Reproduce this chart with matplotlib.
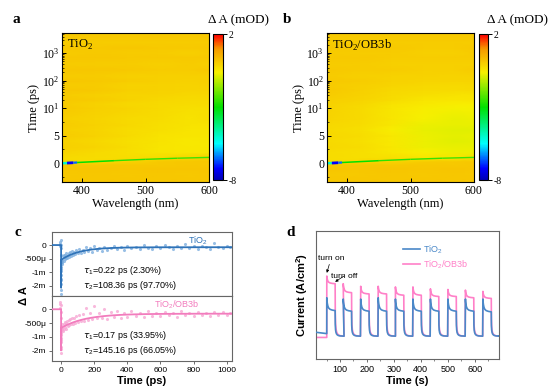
import numpy as np
import matplotlib
matplotlib.use('Agg')
import matplotlib.pyplot as plt
from matplotlib.colors import LinearSegmentedColormap, Normalize
from matplotlib.collections import LineCollection
from matplotlib.ticker import FixedLocator, NullLocator

plt.rcParams['font.family'] = ['Liberation Sans', 'DejaVu Sans']
SERIF = ['Liberation Serif', 'DejaVu Serif']

# ---------------- data: transient absorption maps (a, b) ----------------
wavelengths = [368, 420, 470, 520, 570, 600]
delays = [-3.6, -2, -1, -0.3, 0.3, 1, 2, 3, 4, 5, 6, 7, 8, 10, 14, 20, 30,
          45, 70, 100, 150, 250, 400, 700, 1000, 1600, 2500, 4000, 5600]

map_tio2 = [
    [0.20, 0.15, 0.20, 0.15, 0.20, 0.15],
    [0.10, 0.15, 0.10, 0.15, 0.10, 0.15],
    [0.20, 0.20, 0.15, 0.20, 0.20, 0.20],
    [0.15, 0.10, 0.15, 0.10, 0.15, 0.10],
    [-0.20, -0.20, -0.10, 0.10, 0.15, 0.15],
    [-0.20, -0.25, -0.25, -0.20, -0.10, 0.00],
    [-0.10, -0.20, -0.30, -0.40, -0.45, -0.45],
    [0.00, -0.10, -0.25, -0.40, -0.45, -0.50],
    [-0.05, -0.15, -0.30, -0.35, -0.50, -0.45],
    [0.05, -0.05, -0.20, -0.35, -0.40, -0.45],
    [0.00, -0.10, -0.25, -0.30, -0.40, -0.40],
    [0.05, -0.05, -0.15, -0.30, -0.35, -0.35],
    [0.00, -0.10, -0.20, -0.25, -0.35, -0.30],
    [0.10, 0.00, -0.10, -0.20, -0.30, -0.30],
    [0.05, -0.05, -0.15, -0.20, -0.25, -0.25],
    [0.10, 0.05, -0.05, -0.15, -0.20, -0.20],
    [0.05, 0.00, -0.10, -0.10, -0.15, -0.15],
    [0.15, 0.10, 0.00, -0.05, -0.10, -0.10],
    [0.05, 0.05, -0.05, -0.05, -0.10, -0.05],
    [0.15, 0.10, 0.05, 0.00, -0.05, 0.00],
    [0.05, 0.05, 0.00, 0.00, 0.00, 0.00],
    [0.15, 0.15, 0.10, 0.05, 0.05, 0.10],
    [0.05, 0.05, 0.05, 0.00, 0.05, 0.00],
    [0.15, 0.15, 0.10, 0.10, 0.10, 0.10],
    [0.05, 0.10, 0.05, 0.05, 0.00, 0.05],
    [0.15, 0.10, 0.15, 0.10, 0.10, 0.10],
    [0.05, 0.05, 0.05, 0.05, 0.05, 0.05],
    [0.15, 0.15, 0.10, 0.15, 0.10, 0.15],
    [0.10, 0.10, 0.10, 0.10, 0.10, 0.10],
]

map_ob3b = [
    [0.15, 0.20, 0.15, 0.20, 0.15, 0.20],
    [0.10, 0.10, 0.15, 0.10, 0.15, 0.10],
    [0.20, 0.15, 0.20, 0.15, 0.20, 0.15],
    [0.10, 0.15, 0.10, 0.15, 0.10, 0.15],
    [-0.25, -0.15, -0.10, 0.05, 0.10, 0.15],
    [-0.25, -0.30, -0.30, -0.40, -0.40, -0.25],
    [-0.25, -0.30, -0.45, -0.60, -0.70, -0.70],
    [-0.15, -0.25, -0.45, -0.70, -0.75, -0.75],
    [-0.20, -0.30, -0.50, -0.70, -0.85, -0.80],
    [-0.15, -0.25, -0.45, -0.70, -0.80, -0.75],
    [-0.20, -0.30, -0.55, -0.75, -0.85, -0.85],
    [-0.15, -0.25, -0.45, -0.70, -0.75, -0.75],
    [-0.10, -0.20, -0.40, -0.65, -0.75, -0.70],
    [-0.05, -0.20, -0.40, -0.55, -0.65, -0.65],
    [-0.05, -0.15, -0.35, -0.50, -0.55, -0.55],
    [0.00, -0.10, -0.25, -0.40, -0.45, -0.40],
    [0.05, -0.05, -0.20, -0.30, -0.35, -0.35],
    [0.10, 0.00, -0.15, -0.20, -0.25, -0.20],
    [0.05, 0.00, -0.10, -0.15, -0.20, -0.15],
    [0.10, 0.05, -0.05, -0.10, -0.10, -0.10],
    [0.05, 0.00, -0.05, -0.05, -0.10, -0.05],
    [0.10, 0.05, 0.05, 0.00, 0.00, 0.05],
    [0.05, 0.05, 0.00, 0.00, 0.00, 0.00],
    [0.10, 0.10, 0.05, 0.05, 0.05, 0.05],
    [0.05, 0.05, 0.05, 0.00, 0.00, 0.05],
    [0.10, 0.10, 0.10, 0.05, 0.05, 0.10],
    [0.05, 0.05, 0.05, 0.05, 0.05, 0.05],
    [0.10, 0.10, 0.10, 0.10, 0.10, 0.10],
    [0.10, 0.10, 0.10, 0.10, 0.10, 0.10],
]

# time-zero (chirp) feature
chirp_wl = [368, 376, 386, 392, 450, 500, 550, 600]
chirp_t0 = [-0.02, 0.02, 0.08, 0.12, 0.45, 0.7, 0.9, 1.05]
chirp_val = [-5.0, -7.2, -6.5, -3.0, -2.6, -2.5, -2.4, -2.3]
chirp_width = [1.8, 2.0, 1.6, 1.1, 1.0, 1.0, 1.0]

# ---------------- data: kinetics (c) ----------------
t_kin = [-6, -5, -4, -3, -2, -1.5, -1, -0.5, 0, 0.2, 0.4, 0.6, 0.8, 1, 1.5, 2, 3, 4, 5, 6,
         8, 12, 15, 18, 22, 25, 28, 32, 36, 40, 45, 50, 55, 60, 65, 70, 78, 85, 92, 100,
         110, 120, 130, 140, 150, 162, 175, 188, 200, 215, 230, 245, 260, 280, 300, 320,
         340, 360, 380, 400, 425, 450, 475, 500, 525, 550, 575, 600, 625, 650, 675, 700,
         725, 750, 775, 800, 825, 850, 875, 900, 925, 950, 975, 1000, 1020]
dA_tio2 = [0.05, -0.02, 0.10, 0.18, 0.02, -0.10, -0.35, -0.90, -1.60, -2.60, -2.30, -1.90,
           -1.50, -1.20, -0.95, -0.80, -0.70, -0.62, -0.58, -0.55,
           -0.62, -0.41, -0.58, -0.38, -0.52, -0.35, -0.49, -0.31, -0.47, -0.36, -0.29, -0.44,
           -0.27, -0.40, -0.22, -0.36, -0.25, -0.33, -0.18, -0.30, -0.14, -0.28, -0.17, -0.26,
           -0.08, -0.22, -0.12, -0.24, -0.05, -0.19, -0.10, -0.21, -0.06, -0.17, -0.12, -0.02,
           -0.15, -0.07, -0.18, -0.03, -0.12, -0.06, -0.16, -0.01, -0.10, -0.14, -0.04, -0.11,
           0.02, -0.09, -0.15, -0.03, -0.10, 0.03, -0.12, -0.05, -0.14, -0.02, -0.09, -0.13,
           0.06, -0.06, -0.11, -0.04, -0.08]
dA_ob3b = [0.20, 0.05, 0.25, -0.10, 0.15, -0.30, -0.60, -1.20, -1.90, -2.20, -1.70, -1.40,
           -1.10, -0.95, -0.85, -0.80, -0.75, -0.72, -0.70, -0.68,
           -0.55, -0.78, -0.52, -0.70, -0.45, -0.66, -0.49, -0.72, -0.41, -0.60, -0.38, -0.58,
           -0.36, -0.55, -0.30, -0.52, -0.33, -0.50, -0.26, -0.47, -0.22, -0.44, -0.18, -0.42,
           0.05, -0.38, -0.12, -0.36, 0.10, -0.33, -0.15, -0.31, 0.02, -0.35, -0.10, -0.28,
           -0.05, -0.30, -0.12, -0.27, -0.08, -0.25, -0.14, -0.29, -0.06, -0.23, -0.12, -0.26,
           -0.09, -0.22, -0.15, -0.27, -0.08, -0.20, -0.13, -0.25, -0.10, -0.21, -0.15, -0.24,
           -0.11, -0.19, -0.09, -0.22, -0.14]
# biexponential fits (mOD): amplitudes, lifetimes (ps), offset
fit_tio2 = dict(a1=1.60, tau1=0.22, a2=0.47, tau2=108.36, c=0.08)
fit_ob3b = dict(a1=1.30, tau1=0.17, a2=0.52, tau2=145.16, c=0.16)

# ---------------- data: photocurrent (d) ----------------
on_times = [51, 112, 177, 242, 306, 371, 436, 501, 566, 631]
on_duration = 31
tio2_spike = [0.48, 0.47, 0.47, 0.48, 0.47, 0.47, 0.47, 0.47, 0.47, 0.47]
tio2_plateau = [0.38, 0.375, 0.375, 0.375, 0.375, 0.375, 0.375, 0.375, 0.375, 0.37]
ob3b_spike = [0.65, 0.59, 0.57, 0.57, 0.565, 0.565, 0.55, 0.545, 0.54, 0.53]
ob3b_plateau = [0.59, 0.52, 0.51, 0.51, 0.50, 0.50, 0.49, 0.49, 0.48, 0.475]
tio2_dark = [0.21, 0.20, 0.18]   # start, just before first on, later
ob3b_dark = [0.17, 0.17, 0.18]
# normalised shape of one on/off cycle, read from the first cycles
rise_dt = [0, 0.5, 2, 4, 7, 12, 20, 31]
rise_w = [1, 0.8, 0.55, 0.35, 0.2, 0.1, 0.04, 0]
fall_dt = [0, 0.5, 1.5, 3, 5, 8, 12, 18, 33]
fall_w = [1, 0.45, 0.25, 0.15, 0.09, 0.05, 0.025, 0.01, 0]


def cycle_curve(spikes, plateaus, dark):
    ts = [12, on_times[0] - 0.2]
    ys = [dark[0], dark[1]]
    for t_on, sp, pl in zip(on_times, spikes, plateaus):
        for dt, w in zip(rise_dt, rise_w):
            ts.append(t_on + dt)
            ys.append(pl + w * (sp - pl))
        t_off = t_on + on_duration
        for dt, w in zip(fall_dt[1:], fall_w[1:]):
            ts.append(t_off + dt)
            ys.append(dark[2] + w * (pl - dark[2]))
    ts.append(690)
    ys.append(dark[2])
    return ts, ys


# ---------------- colormap ----------------
cmap = LinearSegmentedColormap.from_list('ta', [
    (0.0, '#0000b4'), (0.08, '#0000ff'), (0.25, '#00ffff'), (0.5, '#00e000'),
    (0.74, '#f8f000'), (0.9, '#f59a00'), (1.0, '#ff0000')])
norm = Normalize(-8, 2)


def t_fwd(t):
    t = np.asarray(t, dtype=float)
    return np.where(t <= 5, t / 5.0,
                    np.where(t <= 10, 1 + (t - 5) / 5.0,
                             2 + np.log10(np.maximum(t, 10) / 10.0)))


def t_inv(u):
    u = np.asarray(u, dtype=float)
    return np.where(u <= 1, 5 * u,
                    np.where(u <= 2, 5 + 5 * (u - 1),
                             10 * 10 ** (np.minimum(u, 8) - 2)))


fig = plt.figure(figsize=(5.53, 3.90), dpi=100)


def ta_panel(ax_rect, cax_rect, values, name, letter, letter_x, unit_right):
    ax = fig.add_axes(ax_rect)
    cax = fig.add_axes(cax_rect)
    ax.set_yscale('function', functions=(t_fwd, t_inv))
    mesh = ax.pcolormesh(wavelengths, delays, np.array(values), cmap=cmap,
                         norm=norm, shading='gouraud', rasterized=True)
    pts = np.array([chirp_wl, chirp_t0]).T.reshape(-1, 1, 2)
    segs = np.concatenate([pts[:-1], pts[1:]], axis=1)
    lc = LineCollection(segs, cmap=cmap, norm=norm, linewidths=chirp_width)
    lc.set_array(np.array(chirp_val[:-1]))
    ax.add_collection(lc)
    ax.set_xlim(368, 600)
    ax.set_ylim(-3.45, 5370)
    ax.yaxis.set_major_locator(FixedLocator([0, 5, 10, 100, 1000]))
    ax.set_yticklabels(['0', '5', r'$\mathregular{10^1}$', r'$\mathregular{10^2}$',
                        r'$\mathregular{10^3}$'], fontfamily=SERIF, fontsize=8.5)
    minors = [-2.5, 2.5, 7.5] + [m * d for d in (10, 100, 1000) for m in range(2, 10)]
    ax.yaxis.set_minor_locator(FixedLocator(minors))
    ax.set_xticks([400, 500, 600])
    ax.set_xticklabels(['400', '500', '600'], fontfamily=SERIF, fontsize=8.5)
    ax.tick_params(direction='in', length=3, width=0.7, pad=2)
    ax.tick_params(which='minor', direction='in', length=1.5, width=0.5)
    ax.set_xlabel('Wavelength (nm)', fontfamily=SERIF, fontsize=9, labelpad=1)
    ax.set_ylabel('Time (ps)', fontfamily=SERIF, fontsize=9, labelpad=1)
    for s in ax.spines.values():
        s.set_linewidth(0.8)
    ax.text(0.035, 0.92, name, transform=ax.transAxes, fontfamily=SERIF,
            fontsize=9, va='center')
    cb = fig.colorbar(mesh, cax=cax, ticks=[-8, 2])
    cb.ax.set_yticklabels(['-8', '2'], fontfamily=SERIF, fontsize=7)
    cb.ax.tick_params(length=3, width=0.7, pad=1)
    cb.outline.set_linewidth(0.8)
    fig.text(letter_x, 0.949, letter, fontfamily=SERIF, fontsize=11,
             fontweight='bold', va='center')
    fig.text(unit_right, 0.949, '\u0394 A (mOD)', fontfamily=SERIF, fontsize=9.5,
             va='center', ha='right')


ta_panel([0.112, 0.533, 0.266, 0.382], [0.385, 0.538, 0.018, 0.374], map_tio2,
         r'TiO$_\mathregular{2}$', 'a', 0.022, 0.487)
ta_panel([0.591, 0.533, 0.266, 0.382], [0.866, 0.538, 0.017, 0.374], map_ob3b,
         r'TiO$_\mathregular{2}$/OB3b', 'b', 0.511, 0.991)

# ---------------- panel c ----------------
BLUE_PT, BLUE_LN = '#7fb0df', '#2f73b8'
PINK_PT, PINK_LN = '#f7a8d4', '#f27cbd'


def dA_fwd(v):
    v = np.asarray(v, dtype=float)
    return np.where(v >= -1e-3, v, -1e-3 + (v + 1e-3) / 2)


def dA_inv(u):
    u = np.asarray(u, dtype=float)
    return np.where(u >= -1e-3, u, -1e-3 + 2 * (u + 1e-3))


axc1 = fig.add_axes([0.094, 0.241, 0.325, 0.164])
axc2 = fig.add_axes([0.094, 0.074, 0.325, 0.167], sharex=axc1)
t_fit = np.concatenate([[-55, -0.01], np.linspace(0, 1030, 3000)])
for ax, vals, fit, pc, lc_, label, tau_lines in [
        (axc1, dA_tio2, fit_tio2, BLUE_PT, BLUE_LN, r'TiO$_\mathregular{2}$',
         [r'$\tau_\mathregular{1}$=0.22 ps (2.30%)', r'$\tau_\mathregular{2}$=108.36 ps (97.70%)']),
        (axc2, dA_ob3b, fit_ob3b, PINK_PT, PINK_LN, r'TiO$_\mathregular{2}$/OB3b',
         [r'$\tau_\mathregular{1}$=0.17 ps (33.95%)', r'$\tau_\mathregular{2}$=145.16 ps (66.05%)'])]:
    ax.set_yscale('function', functions=(dA_fwd, dA_inv))
    ax.scatter(t_kin, np.array(vals) * 1e-3, s=5, color=pc, alpha=0.8,
               linewidths=0, zorder=2)
    tf = np.clip(t_fit, 0, None)
    model = -(fit['a1'] * np.exp(-tf / fit['tau1']) + fit['a2'] * np.exp(-tf / fit['tau2'])
              + fit['c'])
    model = np.where(t_fit < 0, 0.0, model) * 1e-3
    ax.plot(t_fit, model, color=lc_, lw=1.3, zorder=3)
    ax.set_ylim(-2.76e-3, 0.48e-3)
    ax.set_xlim(-55, 1030)
    ax.yaxis.set_major_locator(FixedLocator([0, -5e-4, -1e-3, -2e-3]))
    ax.set_yticklabels(['0', '-500\u03bc', '-1m', '-2m'])
    ax.yaxis.set_minor_locator(NullLocator())
    ax.tick_params(labelsize=6, length=2.5, width=0.6, pad=1.5, color='#555555')
    for s in ax.spines.values():
        s.set_color('#666666')
        s.set_linewidth(0.8)
    ax.text(0.755 if ax is axc1 else 0.57, 0.86, label, transform=ax.transAxes,
            color=lc_, fontsize=6.5, va='center')
    ax.text(0.17, 0.40, tau_lines[0], transform=ax.transAxes, fontsize=6.5, va='center')
    ax.text(0.17, 0.17, tau_lines[1], transform=ax.transAxes, fontsize=6.5, va='center')
axc1.tick_params(axis='x', labelbottom=False, length=0)
axc2.set_xticks([0, 200, 400, 600, 800, 1000])
axc2.set_xlabel('Time (ps)', fontsize=8, fontweight='bold', labelpad=1.5)
fig.text(0.043, 0.241, '\u0394 A', rotation=90, fontsize=8, fontweight='bold',
         va='center', ha='center')
fig.text(0.026, 0.405, 'c', fontfamily=SERIF, fontsize=11, fontweight='bold', va='center')

# ---------------- panel d ----------------
D_BLUE, D_PINK = '#4a88c8', '#ff80c8'
axd = fig.add_axes([0.571, 0.079, 0.331, 0.328])
tx, ty = cycle_curve(ob3b_spike, ob3b_plateau, ob3b_dark)
axd.plot(tx, ty, color=D_PINK, lw=1.2, label=r'TiO$_\mathregular{2}$/OB3b', zorder=2)
tx, ty = cycle_curve(tio2_spike, tio2_plateau, tio2_dark)
axd.plot(tx, ty, color=D_BLUE, lw=1.2, label=r'TiO$_\mathregular{2}$', zorder=3)
axd.set_xlim(10, 690)
axd.set_ylim(0, 1)
axd.set_xticks([100, 200, 300, 400, 500, 600])
axd.set_xticks(np.arange(50, 690, 50), minor=True)
axd.set_yticks([])
axd.tick_params(labelsize=6.5, length=2.5, width=0.6, pad=1.5, color='#555555')
axd.tick_params(which='minor', length=1.5, width=0.5, color='#555555')
for s in axd.spines.values():
    s.set_color('#666666')
    s.set_linewidth(0.8)
axd.set_xlabel('Time (s)', fontsize=8, fontweight='bold', labelpad=1.5)
axd.set_ylabel(r'Current (A/cm$^\mathregular{2}$)', fontsize=8, fontweight='bold', labelpad=4)
handles, labels = axd.get_legend_handles_labels()
leg = axd.legend(handles[::-1], labels[::-1], loc='upper right', frameon=False,
                 fontsize=6.5, handlelength=1.8, handletextpad=0.4,
                 labelspacing=0.3, bbox_to_anchor=(0.88, 0.97))
for txt, col in zip(leg.get_texts(), [D_BLUE, D_PINK]):
    txt.set_color(col)
axd.annotate('turn on', xy=(51, 0.675), xytext=(18, 0.79), fontsize=6,
             va='center', arrowprops=dict(arrowstyle='-|>', lw=0.5, color='black',
                                          mutation_scale=4, shrinkA=0, shrinkB=0))
axd.annotate('turn off', xy=(82, 0.605), xytext=(66, 0.65), fontsize=6,
             va='center', arrowprops=dict(arrowstyle='-|>', lw=0.5, color='black',
                                          mutation_scale=4, shrinkA=0, shrinkB=0))
fig.text(0.517, 0.403, 'd', fontfamily=SERIF, fontsize=11, fontweight='bold', va='center')

fig.savefig('out.png', dpi=100)
